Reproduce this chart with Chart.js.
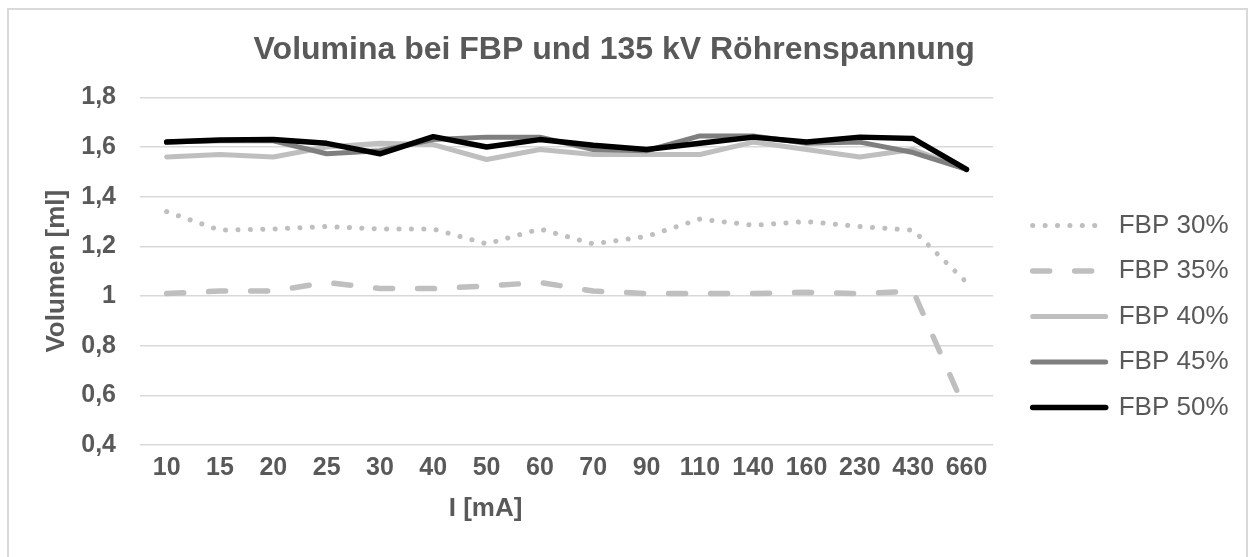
<!DOCTYPE html>
<html>
<head>
<meta charset="utf-8">
<script src="https://cdn.jsdelivr.net/npm/chart.js@4"></script>
<style>
  html, body { margin: 0; background: #fff; overflow: hidden; width: 1250px; height: 557px; }
  #wrap { position: absolute; left: 0; top: 0; width: 1250px; height: 557px; }
  #frame { position: absolute; left: 7px; top: 8px; width: 1241px; height: 700px; box-sizing: border-box; border: 2px solid #d9d9d9; pointer-events: none; z-index: 2; }
</style>
</head>
<body>
<div id="wrap"><canvas id="chart" width="1250" height="557"></canvas></div>
<div id="frame"></div>
<script>
const currents = ["10", "15", "20", "25", "30", "40", "50", "60", "70", "90", "110", "140", "160", "230", "430", "660"];

const fbp30 = [1.34, 1.265, 1.27, 1.28, 1.27, 1.27, 1.21, 1.27, 1.21, 1.24, 1.31, 1.285, 1.30, 1.28, 1.265, 1.055];
const fbp35 = [1.01, 1.02, 1.02, 1.055, 1.03, 1.03, 1.04, 1.055, 1.02, 1.01, 1.01, 1.01, 1.015, 1.01, 1.02, 0.53];
const fbp40 = [1.56, 1.57, 1.56, 1.60, 1.615, 1.61, 1.55, 1.59, 1.57, 1.57, 1.57, 1.62, 1.59, 1.56, 1.59, 1.51];
const fbp45 = [1.62, 1.625, 1.625, 1.573, 1.585, 1.63, 1.64, 1.64, 1.59, 1.585, 1.645, 1.645, 1.615, 1.62, 1.578, 1.51];
const fbp50 = [1.62, 1.628, 1.63, 1.615, 1.573, 1.642, 1.60, 1.63, 1.607, 1.59, 1.615, 1.64, 1.62, 1.64, 1.634, 1.51];

const textColor = "#595959";
const font = "'Liberation Sans', Arial, sans-serif";
const xTitle = "I [mA]";

function series(label, data, color, width, dash, order) {
    return {
        label: label,
        data: data,
        borderColor: color,
        backgroundColor: color,
        borderWidth: width,
        borderDash: dash,
        borderCapStyle: "round",
        borderJoinStyle: "round",
        pointRadius: 0,
        pointHoverRadius: 0,
        tension: 0,
        order: order
    };
}

// x axis title sits left of the plot centre in the original, so draw it by hand
const xTitlePlugin = {
    id: "xTitle",
    afterDraw(chart) {
        const x = chart.scales.x;
        const ctx = chart.ctx;
        ctx.save();
        ctx.fillStyle = textColor;
        ctx.font = "bold 26px " + font;
        ctx.textAlign = "center";
        ctx.textBaseline = "middle";
        ctx.fillText(xTitle, x.left + x.width * 0.405, 509);
        ctx.restore();
    }
};

// leave a gap between plot and legend, and line the legend up with the plot bottom
const legendPlacePlugin = {
    id: "legendPlace",
    afterLayout(chart) {
        const l = chart.legend;
        const area = chart.chartArea;
        l.left = area.right + 20;
        l.right = l.left + l.width;
        l.bottom = area.bottom - 5;
        l.top = area.top;
        l.height = l.bottom - l.top;
    }
};

new Chart(document.getElementById("chart"), {
    type: "line",
    data: {
        labels: currents,
        datasets: [
            series("FBP 30%", fbp30, "#bfbfbf", 5, [0.1, 12.3], 5),
            series("FBP 35%", fbp35, "#bfbfbf", 5.5, [17, 25], 4),
            series("FBP 40%", fbp40, "#bfbfbf", 5, [], 3),
            series("FBP 45%", fbp45, "#7f7f7f", 5, [], 2),
            series("FBP 50%", fbp50, "#000000", 5.5, [], 1)
        ]
    },
    plugins: [xTitlePlugin, legendPlacePlugin],
    options: {
        responsive: false,
        animation: false,
        layout: { padding: { top: 20, bottom: 66, left: 10, right: 31.5 } },
        plugins: {
            title: {
                display: true,
                text: "Volumina bei FBP und 135 kV Röhrenspannung",
                color: textColor,
                font: { family: font, size: 32, weight: "bold" },
                padding: { top: 11, bottom: 28 }
            },
            legend: {
                position: "right",
                align: "end",
                labels: {
                    usePointStyle: true,
                    pointStyle: "line",
                    pointStyleWidth: 73,
                    color: textColor,
                    font: { family: font, size: 26 },
                    padding: 19.5,
                    sort: (a, b) => a.datasetIndex - b.datasetIndex,
                    generateLabels: chart => Chart.defaults.plugins.legend.labels.generateLabels(chart).map(item => {
                        const ds = chart.data.datasets[item.datasetIndex];
                        item.lineDash = ds.borderDash;
                        item.lineWidth = ds.borderWidth;
                        item.lineCap = "round";
                        item.strokeStyle = ds.borderColor;
                        return item;
                    })
                }
            },
            tooltip: { enabled: false }
        },
        scales: {
            x: {
                offset: true,
                grid: { display: false, drawTicks: false },
                border: { display: false },
                ticks: { color: textColor, font: { family: font, size: 25, weight: "bold" }, maxRotation: 0, autoSkip: false, padding: 8 }
            },
            y: {
                min: 0.4,
                max: 1.8,
                grid: { color: "#d9d9d9", lineWidth: 1.5, drawTicks: false },
                border: { display: false },
                ticks: {
                    stepSize: 0.2,
                    color: textColor,
                    font: { family: font, size: 25, weight: "bold" },
                    padding: 24,
                    callback: v => String(Math.round(v * 10) / 10).replace(".", ",")
                },
                title: { display: true, text: "Volumen [ml]", color: textColor, font: { family: font, size: 26, weight: "bold" }, padding: { top: 31.4, bottom: 0 } },
                afterFit: s => { s.width = 130; }
            }
        }
    }
});
</script>
</body>
</html>
